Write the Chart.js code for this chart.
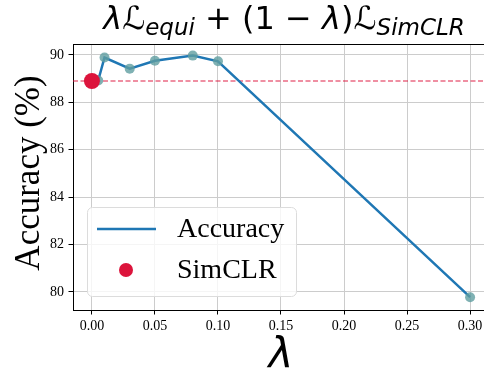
<!DOCTYPE html>
<html><head><meta charset="utf-8">
<script src="https://cdn.jsdelivr.net/npm/chart.js@4"></script>
<style>html,body{margin:0;padding:0;overflow:hidden;background:#fff;width:484px;height:373px}</style>
</head><body>
<canvas id="c" width="500" height="373" style="display:block"></canvas>
<script>
const lambdas = [0.005, 0.01, 0.03, 0.05, 0.08, 0.10, 0.30];
const accuracy = [88.92, 89.89, 89.42, 89.75, 89.97, 89.73, 79.78];
const simclrLambda = [0];
const simclrAccuracy = [88.9];
const xTicks = [0, 0.05, 0.10, 0.15, 0.20, 0.25, 0.30];
const yTicks = [80, 82, 84, 86, 88, 90];
const legendLabels = ['Accuracy', 'SimCLR'];

const SERIF = "'Liberation Serif', 'Times New Roman', serif";
const SANS = "'DejaVu Sans', sans-serif";

const extras = {
  id: 'extras',
  beforeDatasetsDraw(chart) {
    const {ctx, chartArea: a, scales: {y}} = chart;
    const py = y.getPixelForValue(simclrAccuracy[0]);
    ctx.save();
    ctx.strokeStyle = 'rgba(220,20,60,0.95)';
    ctx.lineWidth = 1.2;
    ctx.setLineDash([5, 2.5]);
    ctx.beginPath(); ctx.moveTo(a.left, py); ctx.lineTo(a.right, py); ctx.stroke();
    ctx.restore();
  },
  afterDatasetsDraw(chart) {
    const {ctx, chartArea: a} = chart;
    ctx.save();
    ctx.strokeStyle = '#000'; ctx.lineWidth = 1;
    ctx.beginPath(); ctx.moveTo(a.left, a.top + 0.5); ctx.lineTo(a.right, a.top + 0.5); ctx.stroke();
    ctx.restore();
  },
  afterDraw(chart) {
    const {ctx, chartArea: a} = chart;
    ctx.save();
    // Title with sub-scripts
    const pieces = [
      {t: 'λ', f: 'italic 32px ' + SANS, dy: 0},
      {t: 'ℒ', f: '32px ' + SANS, dy: 0},
      {t: 'equi', f: 'italic 23px ' + SANS, dy: 6},
      {t: ' + (1 − ', f: '32px ' + SANS, dy: 0},
      {t: 'λ', f: 'italic 32px ' + SANS, dy: 0},
      {t: ')ℒ', f: '32px ' + SANS, dy: 0},
      {t: 'SimCLR', f: 'italic 23px ' + SANS, dy: 6}
    ];
    let total = 0;
    pieces.forEach(p => { ctx.font = p.f; p.w = ctx.measureText(p.t).width; total += p.w; });
    let x = 284 - total / 2;
    const base = 29;
    ctx.fillStyle = '#000';
    ctx.textBaseline = 'alphabetic';
    ctx.textAlign = 'left';
    pieces.forEach(p => { ctx.font = p.f; ctx.fillText(p.t, x, base + p.dy); x += p.w; });

    // x label
    ctx.font = 'italic 42px ' + SANS;
    ctx.textAlign = 'center';
    ctx.fillText('λ', (a.left + a.right) / 2, 368);

    // y label
    ctx.save();
    ctx.translate(30, (a.top + a.bottom) / 2 - 4);
    ctx.rotate(-Math.PI / 2);
    ctx.font = '35px ' + SERIF;
    ctx.textAlign = 'center';
    ctx.textBaseline = 'middle';
    ctx.fillText('Accuracy (%)', 0, 0);
    ctx.restore();

    // legend
    ctx.beginPath();
    ctx.roundRect(87.5, 207.5, 209, 89, 5);
    ctx.fillStyle = 'rgba(255,255,255,0.8)';
    ctx.fill();
    ctx.strokeStyle = '#dcdcdc';
    ctx.lineWidth = 1;
    ctx.stroke();

    ctx.strokeStyle = '#1f77b4';
    ctx.lineWidth = 2.5;
    ctx.beginPath(); ctx.moveTo(97, 229); ctx.lineTo(156, 229); ctx.stroke();

    ctx.fillStyle = '#dc143c';
    ctx.beginPath(); ctx.arc(126, 270, 7, 0, Math.PI * 2); ctx.fill();

    ctx.fillStyle = '#000';
    ctx.font = '28px ' + SERIF;
    ctx.textAlign = 'left';
    ctx.textBaseline = 'middle';
    ctx.fillText(legendLabels[0], 177, 230);
    ctx.fillText(legendLabels[1], 177, 271);
    ctx.restore();
  }
};

const tickFont = {family: SERIF, size: 14};

new Chart(document.getElementById('c'), {
  type: 'scatter',
  data: {
    datasets: [
      {
        label: legendLabels[1], type: 'scatter',
        data: simclrLambda.map((x, i) => ({x, y: simclrAccuracy[i]})),
        pointRadius: 8, pointBackgroundColor: '#dc143c', pointBorderWidth: 0, order: 0
      },
      {
        label: 'markers', type: 'scatter',
        data: lambdas.map((x, i) => ({x, y: accuracy[i]})),
        pointRadius: 5, pointBackgroundColor: 'rgba(95,158,160,0.8)', pointBorderWidth: 0, order: 1
      },
      {
        label: legendLabels[0], type: 'line',
        data: lambdas.map((x, i) => ({x, y: accuracy[i]})),
        borderColor: '#1f77b4', borderWidth: 2.5, pointRadius: 0, tension: 0, fill: false, order: 2
      }
    ]
  },
  options: {
    responsive: false,
    devicePixelRatio: 1,
    animation: false,
    layout: {padding: {left: 0, top: 44, right: 11, bottom: 0}},
    plugins: {legend: {display: false}, tooltip: {enabled: false}, title: {display: false}},
    scales: {
      x: {
        type: 'linear', min: -0.015, max: 0.315,
        afterBuildTicks: s => { s.ticks = xTicks.map(v => ({value: v})); },
        afterFit: s => { s.height = 63; },
        ticks: {callback: v => v.toFixed(2), font: tickFont, color: '#000', padding: 3, maxRotation: 0, autoSkip: false},
        grid: {color: '#cccccc', lineWidth: 1, tickLength: 4.5, tickColor: '#000', tickWidth: 1},
        border: {display: true, color: '#000', width: 1}
      },
      y: {
        type: 'linear', min: 79.24, max: 90.46,
        afterBuildTicks: s => { s.ticks = yTicks.map(v => ({value: v})); },
        afterFit: s => { s.width = 73; },
        ticks: {callback: v => v.toFixed(0), font: tickFont, color: '#000', padding: 4.5, autoSkip: false},
        grid: {color: '#cccccc', lineWidth: 1, tickLength: 4.5, tickColor: '#000', tickWidth: 1},
        border: {display: true, color: '#000', width: 1}
      }
    }
  },
  plugins: [extras]
});
</script>
</body></html>
